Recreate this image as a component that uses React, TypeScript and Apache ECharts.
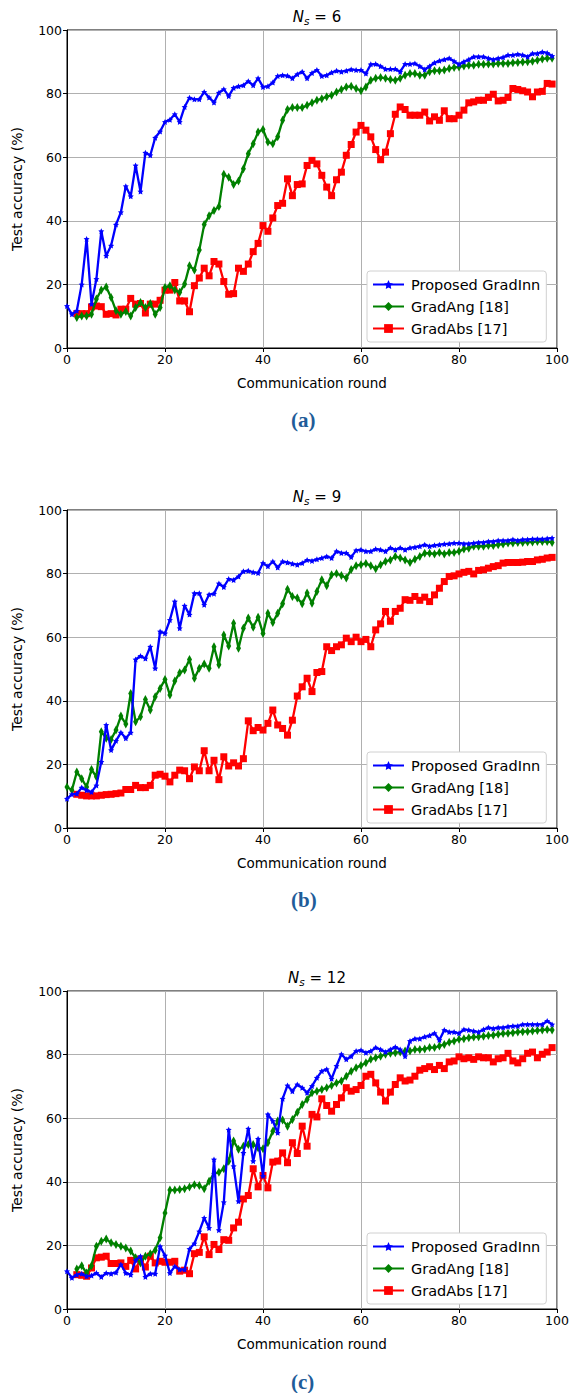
import React, { useEffect, useRef } from "react";
import * as echarts from "echarts";

const xTicks = [0, 20, 40, 60, 80, 100];
const yTicks = [0, 20, 40, 60, 80, 100];
const seriesNames = ["Proposed GradInn", "GradAng [18]", "GradAbs [17]"];
const titles = ["6", "9", "12"];
const captions = ["(a)", "(b)", "(c)"];

// Plot (a) N_s = 6
const blueA_start = 0;
const blueA = [13.2, 10.6, 11.7, 20, 34.3, 13.8, 21.7, 36.7, 29, 32.2, 38.8, 42.7, 50.9, 47.7, 57.4, 49.2, 61.4, 60.6, 66.1, 68.1, 71.1, 71.8, 73.5, 71.1, 75.8, 78.7, 78.2, 78.2, 80.5, 78.8, 77.2, 80.3, 81.4, 79.2, 81.8, 82.3, 82.6, 83.9, 82.6, 84.8, 82.1, 82.3, 83.5, 85.5, 85.8, 85.6, 84.8, 86.1, 86.9, 84.8, 86.5, 87.4, 85.5, 85.8, 86.6, 87.2, 86.9, 87.2, 87.6, 87.4, 87.4, 86.3, 89.2, 89.3, 88.6, 87.7, 87.7, 87.7, 86.9, 89.3, 89.3, 89.5, 88.6, 87.6, 88.6, 89.7, 90.3, 90.7, 91.1, 90.2, 89.2, 90.0, 90.7, 91.6, 91.6, 91.6, 91.1, 90.7, 91.1, 91.4, 92.1, 92.1, 92.4, 92.1, 91.6, 92.6, 92.6, 93.1, 92.8, 91.8];
const greenA_start = 2;
const greenA = [9.6, 10.1, 10.1, 10.6, 15.4, 18.2, 19.2, 15.9, 11.7, 10.6, 11.5, 10.1, 12.7, 14.3, 12.7, 14.0, 10.6, 12.7, 19.0, 19.6, 18.2, 17.5, 20.1, 25.9, 24.5, 30.8, 38.8, 41.6, 43.2, 44.5, 54.6, 53.7, 51.4, 52.5, 56.4, 61.1, 64.2, 67.9, 68.7, 64.8, 64.2, 66.4, 71.6, 75.0, 75.6, 75.6, 75.6, 76.3, 77.1, 77.9, 78.4, 79.0, 79.5, 80.5, 81.3, 82.1, 82.3, 81.6, 80.9, 82.1, 84.2, 84.8, 85.1, 84.8, 84.4, 84.2, 84.8, 85.8, 86.3, 86.3, 85.8, 85.8, 86.9, 87.2, 87.2, 87.4, 87.9, 88.2, 88.4, 88.7, 88.9, 88.9, 89.2, 89.2, 89.3, 89.3, 89.5, 89.5, 89.5, 89.7, 89.8, 89.9, 90.0, 90.2, 90.5, 90.9, 91.1, 91.1];
const redA_start = 2;
const redA = [10.8, 10.8, 10.8, 12.9, 13.2, 13.0, 10.6, 10.8, 10.4, 12.2, 12.2, 15.6, 13.8, 14.0, 11.0, 13.8, 13.8, 15.0, 18.2, 18.2, 20.6, 14.8, 14.8, 11.4, 19.6, 22.0, 25.1, 22.7, 27.2, 26.4, 20.9, 16.9, 17.1, 25.1, 24.1, 26.4, 30.3, 32.9, 38.5, 36.7, 40.9, 44.8, 45.5, 53.2, 47.9, 51.4, 51.6, 57.4, 59.0, 57.9, 54.3, 50.6, 47.9, 52.9, 55.3, 60.6, 64.0, 67.9, 70.0, 68.5, 66.4, 62.4, 59.2, 61.6, 67.4, 73.5, 75.8, 75.0, 73.2, 73.2, 73.2, 74.2, 71.4, 72.7, 71.6, 74.6, 72.1, 72.1, 73.2, 74.8, 77.1, 77.4, 77.9, 77.9, 78.8, 79.8, 77.7, 77.9, 78.8, 81.6, 81.3, 80.9, 80.5, 79.0, 80.5, 80.7, 83.2, 83.0];

// Plot (b) N_s = 9
const blueB_start = 0;
const blueB = [9.2, 10.6, 10.8, 12.7, 11.9, 11.3, 13.4, 20.8, 32.4, 24.5, 27.4, 30.0, 28.2, 30.0, 53.0, 54.1, 53.3, 57.0, 50.2, 61.8, 61.2, 65.4, 71.2, 62.8, 69.9, 67.1, 73.8, 73.8, 70.2, 73.4, 73.7, 76.9, 75.8, 78.3, 78.0, 79.1, 80.7, 80.9, 80.4, 80.2, 83.3, 82.3, 83.8, 81.9, 83.8, 83.5, 83.1, 82.8, 83.3, 84.3, 84.0, 84.5, 84.9, 85.4, 84.9, 87.0, 86.5, 86.5, 85.2, 87.3, 87.5, 87.0, 87.0, 87.7, 87.5, 87.0, 88.1, 87.5, 88.1, 87.5, 88.1, 88.3, 88.6, 89.1, 88.6, 88.9, 89.1, 89.3, 89.4, 89.6, 89.6, 89.4, 89.4, 89.6, 89.8, 89.8, 90.1, 90.1, 90.4, 90.4, 90.4, 90.7, 90.4, 90.7, 90.7, 90.9, 90.9, 90.9, 91.0, 91.2];
const greenB_start = 0;
const greenB = [12.9, 11.9, 17.6, 15.5, 12.9, 18.4, 16.1, 30.3, 28.2, 27.8, 30.8, 35.2, 32.7, 42.3, 33.4, 35.0, 40.4, 37.1, 41.3, 43.9, 46.7, 41.8, 46.2, 48.8, 49.7, 53.0, 47.1, 50.2, 51.6, 50.2, 57.0, 51.3, 60.7, 57.2, 64.4, 56.5, 62.8, 66.0, 63.1, 66.3, 61.2, 67.5, 64.6, 67.5, 70.5, 75.1, 72.8, 72.3, 70.5, 73.9, 70.7, 74.4, 78.1, 76.2, 79.6, 80.0, 79.4, 78.6, 81.3, 82.5, 82.8, 83.2, 82.5, 81.5, 82.8, 83.8, 84.3, 85.4, 84.9, 84.3, 83.5, 84.5, 85.4, 86.4, 86.4, 86.2, 86.6, 86.2, 86.6, 86.6, 87.0, 87.7, 88.0, 88.6, 88.6, 88.6, 88.8, 88.8, 89.1, 89.3, 89.6, 89.6, 89.8, 89.8, 89.9, 89.9, 90.1, 90.1, 90.1, 89.8];
const redB_start = 2;
const redB = [10.6, 10.3, 10.1, 10.1, 10.1, 10.3, 10.5, 10.6, 10.8, 11.0, 12.1, 12.1, 13.4, 12.7, 12.7, 13.4, 16.6, 16.9, 16.3, 14.5, 16.6, 18.2, 18.0, 15.5, 19.2, 18.0, 24.3, 18.0, 21.3, 15.2, 22.4, 19.5, 20.5, 19.5, 21.8, 33.7, 30.6, 31.6, 30.8, 32.9, 37.1, 32.4, 31.3, 29.2, 33.9, 41.5, 44.4, 47.1, 42.9, 48.9, 49.2, 57.0, 55.8, 57.0, 57.6, 59.7, 58.6, 60.0, 58.6, 59.3, 57.0, 62.3, 64.2, 68.1, 65.0, 68.1, 69.1, 71.8, 71.6, 72.8, 71.6, 72.6, 71.2, 73.3, 75.4, 77.5, 79.1, 79.3, 79.9, 80.4, 80.7, 79.9, 81.0, 81.2, 81.7, 82.2, 82.5, 83.3, 83.5, 83.5, 83.5, 83.6, 83.8, 83.8, 84.3, 84.5, 84.9, 85.1];

// Plot (c) N_s = 12
const blueC_start = 0;
const blueC = [11.9, 9.8, 10.8, 11.1, 10.3, 10.5, 11.3, 10.1, 11.3, 11.1, 11.5, 14.0, 11.3, 10.8, 15.3, 16.6, 10.1, 11.1, 11.1, 19.7, 16.8, 11.3, 13.4, 12.4, 12.4, 18.9, 20.6, 24.4, 28.6, 25.5, 47.0, 24.8, 33.6, 56.4, 44.9, 33.9, 49.1, 56.7, 46.5, 53.5, 41.8, 61.2, 59.1, 55.4, 66.1, 70.3, 68.5, 70.6, 69.6, 68.0, 70.1, 72.7, 74.8, 75.4, 72.4, 76.4, 80.1, 78.5, 79.5, 81.1, 81.4, 80.6, 81.1, 82.2, 81.6, 80.8, 81.6, 82.4, 81.6, 79.5, 84.3, 85.0, 85.0, 85.6, 86.0, 86.7, 84.6, 87.7, 87.1, 87.1, 86.7, 87.9, 87.7, 87.4, 87.1, 87.9, 88.5, 88.2, 88.5, 88.5, 88.8, 89.0, 89.0, 89.5, 89.5, 89.5, 89.5, 89.5, 90.6, 89.5];
const greenC_start = 2;
const greenC = [12.6, 13.6, 11.3, 13.6, 19.7, 21.3, 22.0, 20.8, 20.3, 19.7, 19.2, 18.2, 16.1, 14.5, 16.6, 17.4, 18.5, 22.4, 30.2, 37.4, 37.4, 37.6, 37.8, 38.4, 39.1, 38.8, 37.8, 40.2, 42.6, 43.0, 44.1, 46.5, 52.8, 50.2, 51.2, 51.7, 51.7, 50.7, 50.4, 52.3, 55.9, 59.1, 59.4, 57.5, 59.6, 61.9, 64.3, 65.9, 68.0, 68.5, 69.0, 69.6, 70.3, 71.1, 71.7, 73.2, 74.8, 75.9, 76.6, 77.4, 78.5, 79.0, 79.5, 80.1, 80.4, 80.6, 80.8, 81.1, 81.1, 81.6, 81.6, 81.8, 82.2, 82.2, 82.7, 83.2, 83.9, 84.3, 84.8, 85.0, 85.3, 85.5, 85.6, 85.8, 86.0, 86.1, 86.4, 86.6, 86.7, 86.9, 87.1, 87.2, 87.3, 87.4, 87.6, 87.7, 87.9, 87.7];
const redC_start = 2;
const redC = [10.8, 10.6, 10.3, 12.9, 16.1, 16.3, 16.6, 14.3, 14.3, 14.5, 13.4, 15.3, 12.6, 15.7, 13.2, 16.6, 14.5, 15.0, 14.7, 14.7, 15.0, 11.9, 12.2, 11.1, 17.4, 17.8, 22.7, 17.1, 20.3, 18.7, 21.8, 21.6, 25.5, 27.3, 34.6, 35.7, 44.1, 38.4, 42.0, 38.1, 46.2, 46.5, 49.1, 46.0, 52.3, 48.9, 57.5, 51.2, 61.2, 60.4, 66.1, 64.0, 62.2, 64.3, 66.4, 69.6, 68.5, 69.0, 70.3, 73.2, 73.8, 71.1, 68.2, 65.4, 68.2, 70.6, 72.7, 71.7, 72.0, 73.2, 75.1, 75.6, 76.2, 75.3, 76.6, 75.6, 77.7, 78.0, 79.3, 78.7, 79.0, 78.5, 79.3, 79.0, 79.0, 77.7, 78.7, 79.0, 80.4, 78.0, 77.4, 78.7, 80.4, 80.8, 79.0, 80.1, 80.8, 82.2];

const panels = [
  { blue: blueA, bs: blueA_start, green: greenA, gs: greenA_start, red: redA, rs: redA_start },
  { blue: blueB, bs: blueB_start, green: greenB, gs: greenB_start, red: redB, rs: redB_start },
  { blue: blueC, bs: blueC_start, green: greenC, gs: greenC_start, red: redC, rs: redC_start },
];

const toPairs = (arr: number[], start: number) => arr.map((v, i) => [start + i, v]);

const STAR =
  "path://M0,-10 L2.9,-4 L9.5,-3.1 L4.8,1.5 L5.9,8.1 L0,5 L-5.9,8.1 L-4.8,1.5 L-9.5,-3.1 L-2.9,-4 Z";

const FONT = "DejaVu Sans";

export default function App() {
  const ref = useRef<HTMLDivElement>(null);
  useEffect(() => {
    if (!ref.current) return;
    const chart = echarts.init(ref.current, undefined, { renderer: "svg" });
    const gridTops = [30, 510, 991];
    const gridH = 318;
    const grids = gridTops.map((t) => ({
      left: 67,
      top: t,
      width: 490,
      height: gridH,
      show: true,
      borderColor: "#000",
      borderWidth: 1,
      backgroundColor: "transparent",
    }));
    const xAxes = gridTops.map((_, i) => ({
      type: "value",
      gridIndex: i,
      min: xTicks[0],
      max: xTicks[xTicks.length - 1],
      interval: 20,
      name: "Communication round",
      nameLocation: "middle",
      nameGap: 28,
      nameTextStyle: { fontFamily: FONT, fontSize: 13.5, color: "#000" },
      axisLine: { show: true, lineStyle: { color: "#000", width: 1 } },
      axisTick: { show: true, inside: false, length: 4, lineStyle: { color: "#000" } },
      axisLabel: { fontFamily: FONT, fontSize: 12.5, color: "#000", margin: 5 },
      splitLine: { show: true, lineStyle: { color: "#b0b0b0", width: 1 } },
    }));
    const yAxes = gridTops.map((_, i) => ({
      type: "value",
      gridIndex: i,
      min: yTicks[0],
      max: yTicks[yTicks.length - 1],
      interval: 20,
      name: "Test accuracy (%)",
      nameLocation: "middle",
      nameGap: 43,
      nameTextStyle: { fontFamily: FONT, fontSize: 14, color: "#000" },
      axisLine: { show: true, lineStyle: { color: "#000", width: 1 } },
      axisTick: { show: true, inside: false, length: 4, lineStyle: { color: "#000" } },
      axisLabel: { fontFamily: FONT, fontSize: 12.5, color: "#000", margin: 5 },
      splitLine: { show: true, lineStyle: { color: "#b0b0b0", width: 1 } },
    }));
    const series: any[] = [];
    panels.forEach((p, i) => {
      series.push({
        name: seriesNames[0],
        type: "line",
        xAxisIndex: i,
        yAxisIndex: i,
        data: toPairs(p.blue, p.bs),
        symbol: STAR,
        symbolSize: 6,
        showSymbol: true,
        itemStyle: { color: "#0000ff" },
        lineStyle: { color: "#0000ff", width: 2.3 },
        z: 4,
      });
      series.push({
        name: seriesNames[1],
        type: "line",
        xAxisIndex: i,
        yAxisIndex: i,
        data: toPairs(p.green, p.gs),
        symbol: "diamond",
        symbolSize: [5, 9],
        showSymbol: true,
        itemStyle: { color: "#008000" },
        lineStyle: { color: "#008000", width: 2.3 },
        z: 3,
      });
      series.push({
        name: seriesNames[2],
        type: "line",
        xAxisIndex: i,
        yAxisIndex: i,
        data: toPairs(p.red, p.rs),
        symbol: "rect",
        symbolSize: 7,
        showSymbol: true,
        itemStyle: { color: "#ff0000" },
        lineStyle: { color: "#ff0000", width: 2.3 },
        z: 2,
      });
    });
    const titleTops = [2, 482, 963];
    const title = titleTops.map((t, i) => ({
      text: `{i|N}{s|s}{n| = ${titles[i]}}`,
      left: 312,
      top: t,
      textAlign: "center",
      textStyle: {
        fontWeight: "normal",
        rich: {
          i: { fontFamily: FONT, fontSize: 15, fontStyle: "italic", fontWeight: "normal", color: "#000" },
          s: { fontFamily: FONT, fontSize: 10.5, fontStyle: "italic", fontWeight: "normal", color: "#000", padding: [8, 0, 0, 0] },
          n: { fontFamily: FONT, fontSize: 15, fontWeight: "normal", color: "#000" },
        },
      },
    }));
    const legendTops = [271, 752, 1233];
    const legend = legendTops.map((t) => ({
      data: seriesNames,
      orient: "vertical",
      left: 367,
      top: t,
      width: 183,
      padding: [6, 6, 6, 5],
      itemGap: 7,
      itemWidth: 31,
      itemHeight: 11,
      backgroundColor: "#fff",
      borderColor: "#d0d0d0",
      borderWidth: 1,
      borderRadius: 3,
      textStyle: { fontFamily: FONT, fontSize: 14.5, color: "#000", padding: [0, 0, 0, 2] },
      selectedMode: false,
    }));
    const captionY = [421, 901, 1383];
    const graphic = captionY.map((y, i) => ({
      type: "text",
      left: 304 - 13,
      top: y - 12,
      style: {
        text: captions[i],
        font: "bold 21px 'Liberation Serif', serif",
        fill: "#1f5c99",
      },
    }));
    chart.setOption({
      animation: false,
      backgroundColor: "#fff",
      title,
      legend,
      grid: grids,
      xAxis: xAxes,
      yAxis: yAxes,
      series,
      graphic,
    });
    return () => chart.dispose();
  }, []);
  return (
    <div
      ref={ref}
      style={{ position: "absolute", left: 0, top: 0, width: 573, height: 1393 }}
    />
  );
}
